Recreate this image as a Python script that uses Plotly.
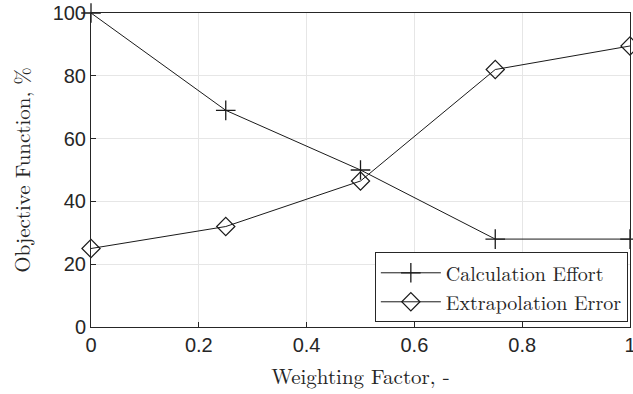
import plotly.graph_objects as go

weighting = [0, 0.25, 0.5, 0.75, 1.0]
calc_effort = [100, 69, 50, 28, 28]
extrap_error = [25, 32, 46.5, 82, 89.5]

x_ticks = [0, 0.2, 0.4, 0.6, 0.8, 1]
x_ticklabels = ["0", "0.2", "0.4", "0.6", "0.8", "1"]
y_ticks = [0, 20, 40, 60, 80, 100]

serif = "Latin Modern Roman, CMU Serif, Liberation Serif, DejaVu Serif, serif"
sans = "Liberation Sans, Arial, sans-serif"

fig = go.Figure()
fig.add_trace(go.Scatter(
    x=weighting, y=calc_effort, mode="lines+markers", name="Calculation Effort",
    line=dict(color="#1a1a1a", width=1),
    marker=dict(symbol="cross-thin-open", size=14, line=dict(color="#1a1a1a", width=1.3)),
    cliponaxis=False,
))
fig.add_trace(go.Scatter(
    x=weighting, y=extrap_error, mode="lines+markers", name="Extrapolation Error",
    line=dict(color="#1a1a1a", width=1),
    marker=dict(symbol="diamond-open", size=14, color="#1a1a1a", line=dict(color="#1a1a1a", width=1.2)),
    cliponaxis=False,
))

fig.update_layout(
    width=633, height=394,
    margin=dict(l=91, r=3, t=13, b=67, autoexpand=False),
    paper_bgcolor="white", plot_bgcolor="white",
    showlegend=True,
    legend=dict(
        x=0.996, y=0.015, xanchor="right", yanchor="bottom",
        bgcolor="white", bordercolor="#262626", borderwidth=1,
        font=dict(family=serif, size=20, color="#262626"),
        itemwidth=60, tracegroupgap=0,
    ),
    xaxis=dict(
        range=[0, 1], tickvals=x_ticks, ticktext=x_ticklabels,
        showgrid=True, gridcolor="#e6e6e6", gridwidth=1,
        showline=True, linecolor="#262626", linewidth=1, mirror=True,
        ticks="inside", ticklen=5, tickcolor="#262626",
        tickfont=dict(family=sans, size=20, color="#262626"),
        ticklabeloverflow="allow",
        zeroline=False, automargin=False,
        title=dict(text="Weighting Factor, -", font=dict(family=serif, size=21, color="#262626"), standoff=14),
    ),
    yaxis=dict(
        range=[0, 100], tickvals=y_ticks,
        showgrid=True, gridcolor="#e6e6e6", gridwidth=1,
        showline=True, linecolor="#262626", linewidth=1, mirror=True,
        ticks="inside", ticklen=5, tickcolor="#262626",
        tickfont=dict(family=sans, size=20, color="#262626"),
        ticklabeloverflow="allow",
        zeroline=False, automargin=False,
        title=dict(text="Objective Function, %", font=dict(family=serif, size=21, color="#262626"), standoff=16),
    ),
)

fig.write_html("out.html", config={"displayModeBar": False},
               post_script="document.body.style.margin='0';")
